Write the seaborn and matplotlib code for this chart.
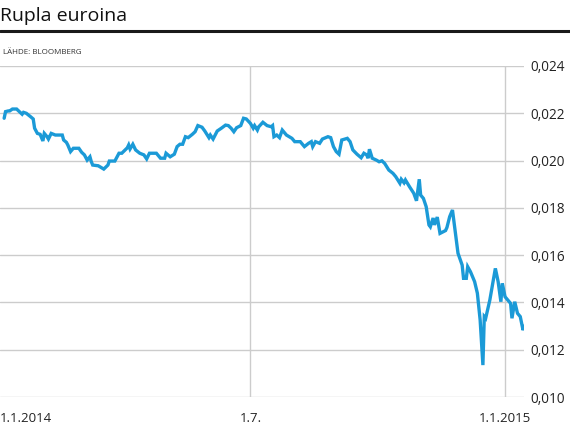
import pandas as pd
import numpy as np
import matplotlib.pyplot as plt
import seaborn as sns

# Rupla euroina (EUR per RUB), luettu kuvasta
# päivää 1.1.2014 jälkeen
days = [3, 4, 6, 7, 9, 12, 14, 16, 17, 19, 22, 24, 25, 27, 29, 31, 32, 34, 35, 37,
        40, 45, 46, 48, 49, 51, 53, 57, 59, 61, 63, 65, 66, 67, 71, 75, 78, 79, 83, 86,
        88, 92, 93, 94, 96, 98, 101, 104, 106, 108, 113, 116, 119, 120, 123, 126, 128, 130, 132, 134,
        136, 139, 141, 143, 146, 148, 151, 152, 154, 157, 160, 163, 165, 167, 169, 171, 174, 176, 178, 181,
        183, 184, 186, 187, 190, 193, 196, 197, 198, 200, 202, 204, 207, 211, 213, 217, 220, 223, 225, 226,
        228, 231, 233, 237, 239, 241, 243, 245, 247, 251, 253, 255, 258, 261, 263, 265, 266, 267, 269, 272,
        274, 276, 278, 281, 284, 286, 289, 290, 292, 293, 296, 299, 301, 303, 304, 306, 308, 310, 311, 313,
        314, 316, 318, 322, 323, 325, 327, 331, 334, 335, 337, 338, 340, 343, 345, 347, 349, 350, 351, 354,
        358, 360, 362, 363, 365, 369, 370, 372, 374, 376, 378, 379]
rate = [0.02179, 0.02207, 0.02210, 0.02210, 0.02218, 0.02218, 0.02207, 0.02196, 0.02204, 0.02200,
        0.02186, 0.02176, 0.02137, 0.02115, 0.02111, 0.02083, 0.02115, 0.02101, 0.02091, 0.02115,
        0.02108, 0.02108, 0.02087, 0.02077, 0.02066, 0.02038, 0.02052, 0.02052, 0.02035, 0.02024,
        0.02002, 0.02016, 0.01995, 0.01981, 0.01978, 0.01964, 0.01981, 0.01998, 0.01998, 0.02031,
        0.02031, 0.02054, 0.02066, 0.02049, 0.02069, 0.02045, 0.02031, 0.02024, 0.02007, 0.02031,
        0.02031, 0.02010, 0.02010, 0.02031, 0.02016, 0.02027, 0.02059, 0.02069, 0.02069, 0.02101,
        0.02097, 0.02111, 0.02122, 0.02148, 0.02141, 0.02125, 0.02097, 0.02108, 0.02091, 0.02125,
        0.02137, 0.02150, 0.02148, 0.02137, 0.02122, 0.02139, 0.02148, 0.02179, 0.02176, 0.02157,
        0.02137, 0.02148, 0.02129, 0.02143, 0.02162, 0.02148, 0.02143, 0.02148, 0.02101, 0.02108,
        0.02097, 0.02129, 0.02108, 0.02094, 0.02080, 0.02080, 0.02059, 0.02073, 0.02080, 0.02059,
        0.02080, 0.02073, 0.02091, 0.02101, 0.02097, 0.02059, 0.02038, 0.02027, 0.02087, 0.02094,
        0.02080, 0.02045, 0.02027, 0.02012, 0.02031, 0.02024, 0.02010, 0.02048, 0.02010, 0.02002,
        0.01995, 0.01999, 0.01988, 0.01960, 0.01946, 0.01932, 0.01904, 0.01921, 0.01906, 0.01918,
        0.01889, 0.01862, 0.01830, 0.01921, 0.01854, 0.01840, 0.01805, 0.01728, 0.01720, 0.01757,
        0.01728, 0.01761, 0.01692, 0.01704, 0.01717, 0.01763, 0.01791, 0.01608, 0.01558, 0.01502,
        0.01502, 0.01551, 0.01530, 0.01488, 0.01439, 0.01326, 0.01135, 0.01340, 0.01333, 0.01410,
        0.01544, 0.01488, 0.01403, 0.01481, 0.01424, 0.01396, 0.01333, 0.01403, 0.01354, 0.01340,
        0.01283, 0.01300]

x_ticks = ["2014-01-01", "2014-07-01", "2015-01-01"]
x_labels = ["1.1.2014", "1.7.", "1.1.2015"]
y_ticks = [0.010, 0.012, 0.014, 0.016, 0.018, 0.020, 0.022, 0.024]
y_labels = ["0,010", "0,012", "0,014", "0,016", "0,018", "0,020", "0,022", "0,024"]

start = pd.Timestamp("2014-01-01")
df = pd.DataFrame({
    "pvm": start + pd.to_timedelta(days, unit="D"),
    "kurssi": rate,
})

sns.set_theme(style="white")
plt.rcParams['font.family'] = ['Open Sans', 'DejaVu Sans']

fig = plt.figure(figsize=(5.7, 4.28), dpi=100)
ax = fig.add_axes([0.0, 0.0724, 0.9193, 0.7734])

sns.lineplot(data=df, x="pvm", y="kurssi", ax=ax, color="#1b9ad7", linewidth=2.4,
             solid_joinstyle="miter")

ax.set_xlim(start, start + pd.Timedelta(days=378.7))
ax.set_ylim(0.010, 0.024)

ax.set_xticks(pd.to_datetime(x_ticks))
ax.set_xticklabels(x_labels, fontsize=9.5, color="#222222")
ax.set_yticks(y_ticks)
ax.set_yticklabels(y_labels, fontsize=9.8, color="#222222")
ax.yaxis.tick_right()
ax.tick_params(axis="y", length=0, pad=4.5)
ax.tick_params(axis="x", length=0, pad=11)
ax.get_xticklabels()[0].set_horizontalalignment("left")

ax.grid(True, color="#cccccc", linewidth=1.0)
ax.get_xgridlines()[0].set_visible(False)
ax.set_axisbelow(True)
for s in ax.spines.values():
    s.set_visible(False)
ax.set_xlabel("")
ax.set_ylabel("")

# otsikko, viiva ja lähde
fig.text(0.0, 0.962, "Rupla euroina", fontsize=14, fontweight="medium", color="#111111",
         va="center", ha="left")
fig.add_artist(plt.Line2D([0, 1], [0.927, 0.927], color="#1a1a1a", linewidth=2.2,
                          transform=fig.transFigure))
fig.text(0.005, 0.878, "LÄHDE: BLOOMBERG", fontsize=5.8, color="#333333", va="center", ha="left")

fig.savefig("out.png", dpi=100)
